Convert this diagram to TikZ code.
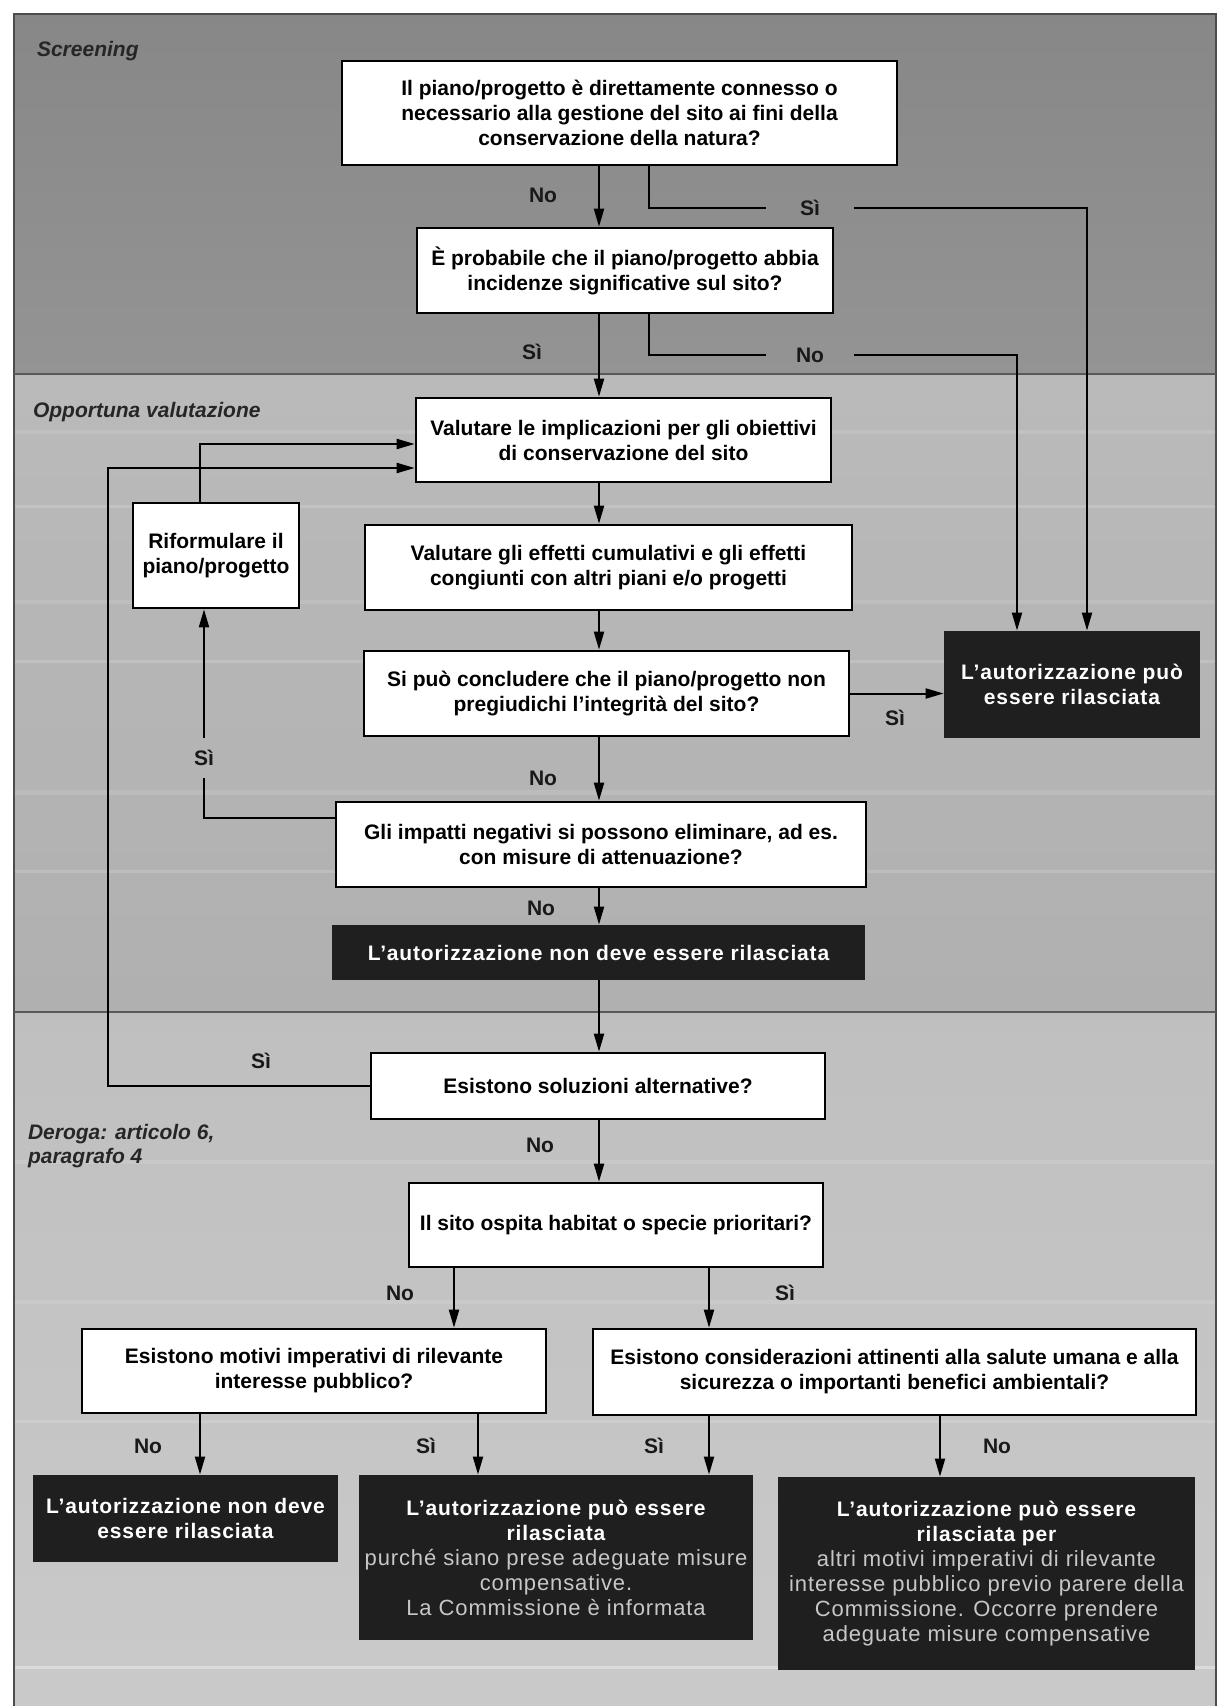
\documentclass[tikz,border=0pt]{standalone}
\usepackage{fontspec}
\setmainfont{Liberation Sans}
\newfontfamily\darkfont[LetterSpace=4]{Liberation Sans}
\usetikzlibrary{arrows.meta}
\newcommand{\lite}[1]{{\mdseries\fontsize{11}{12.6}\selectfont\color{black!22}#1}}
\tikzset{
	quest/.style={draw=black, line width=1.3pt, fill=white, inner sep=0pt, align=center,
		font=\fontsize{10.5}{12.5}\selectfont\bfseries},
	verdict/.style={fill=black!88, inner sep=0pt, align=center, text=white,
		font=\darkfont\fontsize{10.5}{12.5}\selectfont\bfseries},
	answer/.style={font=\fontsize{10.5}{12}\selectfont\bfseries, text=black!90},
	cut/.style={answer, minimum width=44pt, minimum height=20pt, inner sep=0pt},
	sect/.style={font=\fontsize{10.5}{12}\selectfont\bfseries\itshape, anchor=west, align=left, text=black!85},
	wire/.style={line width=1pt},
	arr/.style={-{Triangle[length=9pt,width=5pt]}},
}
\begin{document}
\begin{tikzpicture}[x=0.5pt,y=-0.5pt]
		\useasboundingbox (0,0) rectangle (1218,1706);
		% background bands
		\shade[top color=black!47, bottom color=black!42] (14,14) rectangle (1216,374);
		\shade[top color=black!27, bottom color=black!31] (14,374) rectangle (1216,1012);
		\shade[top color=black!25, bottom color=black!21] (14,1012) rectangle (1216,1706);
		\foreach \y/\h/\o in {430/4/0.12, 505/3/0.15, 600/4/0.1, 660/3/0.15, 790/5/0.12, 870/3/0.15, 1160/4/0.12, 1300/4/0.1, 1420/3/0.15, 1666/3/0.35}
		{
			\fill[white, opacity=\o] (14,\y) rectangle (1216,\y+\h);
		}
		\draw[line width=1pt, black!70] (14,1706) -- (14,14) -- (1216,14) -- (1216,1706);
		\draw[line width=1.2pt, black!65] (14,374) -- (1216,374);
		\draw[line width=1.2pt, black!65] (14,1012) -- (1216,1012);

		% sections
		\node[sect] (scr) at (30,51) {Screening};
		\node[sect] (opp) at (26,412) {Opportuna valutazione};
		\node[sect] (der) at (21,1146) {Deroga: articolo 6,\\ paragrafo 4};

		% boxes
		\node[quest, minimum width=277.5pt, minimum height=52pt] (plan) at (619.5,113) {Il piano/progetto è direttamente connesso o\\ necessario alla gestione del sito ai fini della\\ conservazione della natura?};
		\node[quest, minimum width=208pt, minimum height=42.5pt] (incid) at (625,270.5) {È probabile che il piano/progetto abbia\\ incidenze significative sul sito?};
		\node[quest, minimum width=207.5pt, minimum height=42pt] (goals) at (623.5,440) {Valutare le implicazioni per gli obiettivi\\ di conservazione del sito};
		\node[quest, minimum width=83pt, minimum height=52.5pt] (refor) at (216,555.5) {Riformulare il\\ piano/progetto};
		\node[quest, minimum width=243.5pt, minimum height=42.5pt] (cumul) at (608.5,567.5) {Valutare gli effetti cumulativi e gli effetti\\ congiunti con altri piani e/o progetti};
		\node[quest, minimum width=242.5pt, minimum height=42.5pt] (integ) at (606.5,693.5) {Si può concludere che il piano/progetto non\\ pregiudichi l’integrità del sito?};
		\node[verdict, minimum width=128pt, minimum height=53.5pt] (okA) at (1072,684.5) {L’autorizzazione può\\ essere rilasciata};
		\node[quest, minimum width=265pt, minimum height=42.5pt] (mitig) at (601,844.5) {Gli impatti negativi si possono eliminare, ad es.\\ con misure di attenuazione?};
		\node[verdict, minimum width=266.5pt, minimum height=27.5pt] (noA) at (598.5,952.5) {L’autorizzazione non deve essere rilasciata};
		\node[quest, minimum width=227pt, minimum height=33pt] (alter) at (598,1086) {Esistono soluzioni alternative?};
		\node[quest, minimum width=207pt, minimum height=42pt] (prior) at (616,1225) {Il sito ospita habitat o specie prioritari?};
		\node[quest, minimum width=232pt, minimum height=42pt] (imper) at (314,1371) {Esistono motivi imperativi di rilevante\\ interesse pubblico?};
		\node[quest, minimum width=301.5pt, minimum height=43pt] (salute) at (894.5,1372) {Esistono considerazioni attinenti alla salute umana e alla\\ sicurezza o importanti benefici ambientali?};
		\node[verdict, minimum width=152.5pt, minimum height=43.5pt] (noB) at (185.5,1518.5) {L’autorizzazione non deve\\ essere rilasciata};
		\node[verdict, minimum width=197pt, minimum height=82.5pt] (okB) at (556,1557.5) {L’autorizzazione può essere\\ rilasciata\\ \lite{purché siano prese adeguate misure}\\ \lite{compensative.}\\ \lite{La Commissione è informata}};
		\node[verdict, minimum width=208.5pt, minimum height=96.5pt] (okC) at (986.5,1573.5) {L’autorizzazione può essere\\ rilasciata per\\ \lite{altri motivi imperativi di rilevante}\\ \lite{interesse pubblico previo parere della}\\ \lite{Commissione. Occorre prendere}\\ \lite{adeguate misure compensative}};

		% routing columns
		\coordinate (spine) at (599,0);
		\coordinate (fork) at (649,0);
		\coordinate (rimA) at (1087,0);
		\coordinate (rimB) at (1017,0);
		\coordinate (loopIn) at (200,444);
		\coordinate (loopOut) at (108,468);
		\coordinate (back) at (204,818);
		\coordinate (xNo) at (454,0);
		\coordinate (xSi) at (709,0);
		\coordinate (xA) at (200,0);
		\coordinate (xB) at (478,0);
		\coordinate (xC) at (940,0);

		% screening
		\draw[wire,arr] (plan.south -| spine) -- (incid.north -| spine);
		\node[answer] (no1) at (543,195) {No};
		\node[cut] (si1) at (810,208) {Sì};
		\draw[wire] (plan.south -| fork) |- (si1);
		\draw[wire,arr] (si1) -| (okA.north -| rimA);
		\draw[wire,arr] (incid.south -| spine) -- (goals.north -| spine);
		\node[answer] (si2) at (532,352) {Sì};
		\node[cut] (no2) at (810,355) {No};
		\draw[wire] (incid.south -| fork) |- (no2);
		\draw[wire,arr] (no2) -| (okA.north -| rimB);

		% opportuna valutazione
		\draw[wire,arr] (goals.south -| spine) -- (cumul.north -| spine);
		\draw[wire,arr] (cumul.south -| spine) -- (integ.north -| spine);
		\draw[wire,arr] (integ.east) -- (integ.east -| okA.west);
		\node[answer] (si3) at (895,718) {Sì};
		\draw[wire,arr] (integ.south -| spine) -- (mitig.north -| spine);
		\node[answer] (no3) at (543,778) {No};
		\node[cut] (si4) at (204,758) {Sì};
		\draw[wire] (back -| mitig.west) -| (si4);
		\draw[wire,arr] (si4) -- (si4 |- refor.south);
		\draw[wire,arr] (refor.north -| loopIn) -- (loopIn) -- (loopIn -| goals.west);
		\draw[wire,arr] (mitig.south -| spine) -- (noA.north -| spine);
		\node[answer] (no4) at (541,908) {No};

		% deroga
		\draw[wire,arr] (noA.south -| spine) -- (alter.north -| spine);
		\draw[wire,arr] (alter.west) -| (loopOut) -- (loopOut -| goals.west);
		\node[answer] (si5) at (261,1061) {Sì};
		\draw[wire,arr] (alter.south -| spine) -- (prior.north -| spine);
		\node[answer] (no5) at (540,1145) {No};
		\draw[wire,arr] (prior.south -| xNo) -- (imper.north -| xNo);
		\node[answer] (no6) at (400,1293) {No};
		\draw[wire,arr] (prior.south -| xSi) -- (salute.north -| xSi);
		\node[answer] (si6) at (785,1293) {Sì};
		\draw[wire,arr] (imper.south -| xA) -- (noB.north -| xA);
		\node[answer] (no7) at (148,1446) {No};
		\draw[wire,arr] (imper.south -| xB) -- (okB.north -| xB);
		\node[answer] (si7) at (426,1446) {Sì};
		\draw[wire,arr] (salute.south -| xSi) -- (okB.north -| xSi);
		\node[answer] (si8) at (654,1446) {Sì};
		\draw[wire,arr] (salute.south -| xC) -- (okC.north -| xC);
		\node[answer] (no8) at (997,1446) {No};
\end{tikzpicture}
\end{document}
